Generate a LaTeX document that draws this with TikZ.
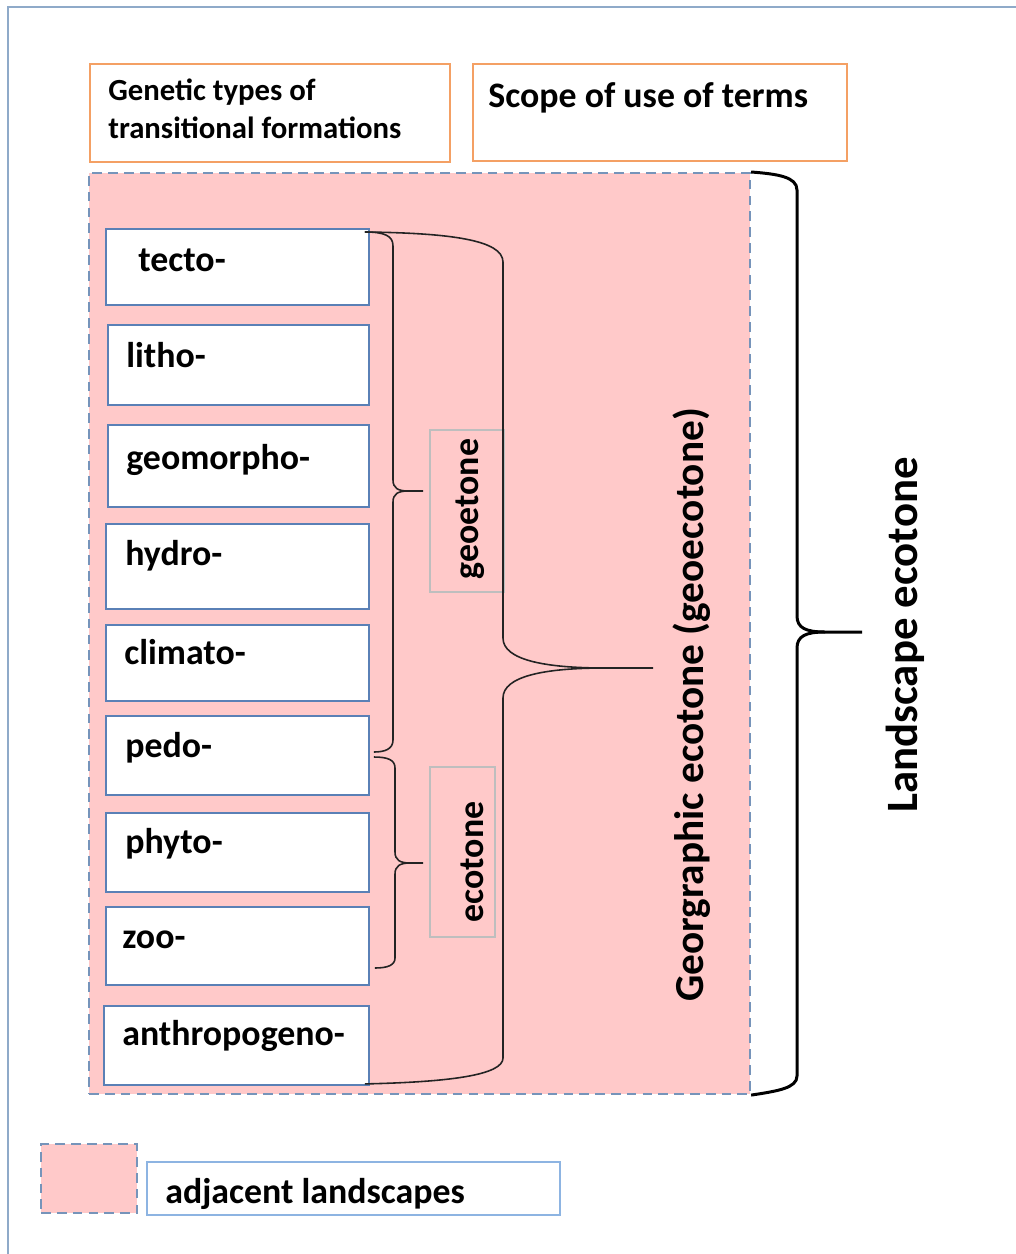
\documentclass[tikz,border=0pt]{standalone}
\usepackage{fontspec}
\setmainfont{Carlito}
\definecolor{frameblue}{RGB}{143,170,201}
\definecolor{orng}{RGB}{244,160,100}
\definecolor{pinkfill}{RGB}{255,201,201}
\definecolor{dashblue}{RGB}{118,148,186}
\definecolor{boxblue}{RGB}{90,128,182}
\definecolor{graybd}{RGB}{190,190,190}
\definecolor{legblue}{RGB}{141,180,226}
\definecolor{bracec}{RGB}{35,35,35}
\tikzset{
  lbox/.style={draw=boxblue, fill=white, line width=1.1pt, anchor=north west, inner sep=0pt},
  hbox/.style={draw=orng, fill=white, line width=1.1pt, anchor=north west, inner sep=0pt},
  gbox/.style={draw=graybd, line width=1pt, anchor=north west, inner sep=0pt},
  pinkarea/.style={draw=dashblue, fill=pinkfill, line width=1.3pt, dash pattern=on 5.5pt off 3.5pt, anchor=north west, inner sep=0pt},
  lbl/.style={anchor=base west, inner sep=0pt, font=\fontsize{20.4}{24}\selectfont\bfseries},
  rtxt/.style={rotate=90, inner sep=0pt, font=\fontsize{20.4}{24}\selectfont\bfseries},
  brc/.style={draw=bracec, line width=0.9pt},
  bigbrc/.style={draw=black, line width=1.7pt}
}
\begin{document}
\begin{tikzpicture}[x=0.02cm,y=-0.02cm]
\useasboundingbox (0,0) rectangle (1016,1254);
\begin{scope}
\clip (0,0) rectangle (1016,1254);
\draw[frameblue, line width=1.2pt] (8,7) rectangle (1040,1280);
\end{scope}

% header boxes
\node[hbox, minimum width=7.2cm, minimum height=1.96cm] (genbox) at (89,63) {};
\node[anchor=base west, inner sep=0pt, align=left, font=\fontsize{17.5}{21.5}\selectfont\bfseries] (gentxt) at (108,138) {Genetic types of\\transitional formations};
\node[hbox, minimum width=7.48cm, minimum height=1.94cm] (scopebox) at (472,63) {};
\node[lbl] (scopetxt) at (488,107) {Scope of use of terms};

% adjacent landscapes area
\node[pinkarea, minimum width=13.22cm, minimum height=18.42cm] (area) at (88,172) {};

% genetic type boxes
\node[lbox, minimum width=5.26cm, minimum height=1.52cm] (tecto) at (105,228) {};
\node[lbl] (tectot) at (138,271) {tecto-};
\node[lbox, minimum width=5.22cm, minimum height=1.60cm] (litho) at (107,324) {};
\node[lbl] (lithot) at (126,367) {litho-};
\node[lbox, minimum width=5.22cm, minimum height=1.64cm] (geom) at (107,424) {};
\node[lbl] (geomt) at (126,469) {geomorpho-};
\node[lbox, minimum width=5.26cm, minimum height=1.70cm] (hydro) at (105,523) {};
\node[lbl] (hydrot) at (125,565) {hydro-};
\node[lbox, minimum width=5.26cm, minimum height=1.52cm] (clim) at (105,624) {};
\node[lbl] (climt) at (124,664) {climato-};
\node[lbox, minimum width=5.26cm, minimum height=1.58cm] (pedo) at (105,715) {};
\node[lbl] (pedot) at (125,757) {pedo-};
\node[lbox, minimum width=5.26cm, minimum height=1.58cm] (phyto) at (105,812) {};
\node[lbl] (phytot) at (125,853) {phyto-};
\node[lbox, minimum width=5.26cm, minimum height=1.56cm] (zoo) at (105,906) {};
\node[lbl] (zoot) at (122,948) {zoo-};
\node[lbox, minimum width=5.30cm, minimum height=1.58cm] (anthro) at (103,1005) {};
\node[lbl] (anthrot) at (122,1045) {anthropogeno-};

% gray label boxes
\node[gbox, minimum width=1.48cm, minimum height=3.24cm] (geobox) at (429,429) {};
\node[rtxt] (geotxt) at (470,509) {geoetone};
\node[gbox, minimum width=1.30cm, minimum height=3.40cm] (ecobox) at (429,766) {};
\node[rtxt] (ecotxt) at (472,862) {ecotone};

% coordinates of brace tips
\coordinate (geotip) at (423,491);
\coordinate (ecotip) at (423,863);
\coordinate (bigtip) at (653,668);
\coordinate (landtip) at (862,632);

% geoetone brace (tecto .. pedo)
\draw[brc] ([shift={(-5,4)}]tecto.north east) .. controls (385,232) and (393,236) .. (393,246)
  -- (393,480) .. controls (393,488) and (398,491) .. (408,491) -- (geotip);
\draw[brc] (408,491) .. controls (398,491) and (393,494) .. (393,502)
  -- (393,740) .. controls (393,749) and (385,752) .. ([shift={(4,37)}]pedo.north east);

% ecotone brace (pedo .. zoo)
\draw[brc] ([shift={(4,42)}]pedo.north east) .. controls (388,757) and (395,760) .. (395,768)
  -- (395,852) .. controls (395,860) and (400,863) .. (410,863) -- (ecotip);
\draw[brc] (410,863) .. controls (400,863) and (395,866) .. (395,874)
  -- (395,958) .. controls (395,965) and (388,968) .. ([shift={(5,62)}]zoo.north east);

% big brace (tecto .. anthropogeno)
\draw[brc] ([shift={(-5,4)}]tecto.north east) .. controls (450,233) and (503,240) .. (503,262)
  -- (503,638) .. controls (503,660) and (545,668) .. (605,668) -- (bigtip);
\draw[brc] (605,668) .. controls (545,668) and (503,676) .. (503,698)
  -- (503,1058) .. controls (503,1075) and (450,1082) .. ([shift={(-5,-2)}]anthro.south east);

\node[rotate=90, inner sep=0pt, font=\fontsize{23.5}{28}\selectfont\bfseries] (geogtxt) at (692,705) {Georgraphic ecotone (geoecotone)};

% landscape brace
\draw[bigbrc] (area.north east) .. controls (778,174) and (797,177) .. (797,190)
  -- (797,616) .. controls (797,628) and (806,632) .. (825,632) -- (landtip);
\draw[bigbrc] (825,632) .. controls (806,632) and (797,636) .. (797,648)
  -- (797,1076) .. controls (797,1088) and (778,1091) .. (area.south east);

\node[rotate=90, inner sep=0pt, font=\fontsize{25.5}{30}\selectfont\bfseries] (landtxt) at (905,635) {Landscape ecotone};

% legend
\node[pinkarea, minimum width=1.92cm, minimum height=1.38cm] (legsq) at (40,1143) {};
\node[draw=legblue, line width=1.1pt, anchor=north west, inner sep=0pt, minimum width=8.26cm, minimum height=1.06cm] (legbox) at (146,1161) {};
\node[lbl] (legtxt) at (165,1203) {adjacent landscapes};
\end{tikzpicture}
\end{document}
